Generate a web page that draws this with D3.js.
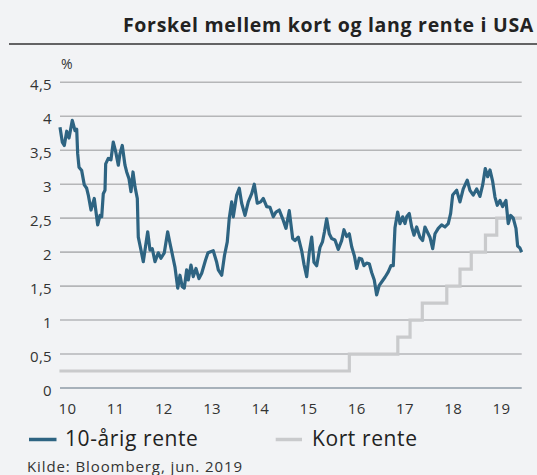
<!DOCTYPE html>
<html>
<head>
<meta charset="utf-8">
<script src="https://cdn.jsdelivr.net/npm/d3@7"></script>
<style>
html,body{margin:0;padding:0;background:#f2f3f5;}
svg{display:block;font-family:"Open Sans",sans-serif;}
</style>
</head>
<body>
<svg id="chart" width="537" height="475"></svg>
<script>
// 10-year yield: decimal-year positions and values (%)
const longDates = [2010.051,2010.098,2010.139,2010.188,2010.235,2010.302,2010.357,2010.392,2010.412,2010.439,2010.494,2010.547,2010.596,2010.629,2010.684,2010.751,2010.821,2010.868,2010.903,2010.935,2010.970,2010.984,2011.037,2011.092,2011.139,2011.188,2011.242,2011.276,2011.323,2011.378,2011.413,2011.460,2011.501,2011.542,2011.583,2011.630,2011.650,2011.705,2011.752,2011.787,2011.842,2011.889,2011.936,2011.991,2012.058,2012.113,2012.181,2012.250,2012.297,2012.344,2012.399,2012.455,2012.501,2012.548,2012.589,2012.638,2012.671,2012.726,2012.773,2012.828,2012.889,2012.945,2013.022,2013.073,2013.181,2013.251,2013.284,2013.353,2013.410,2013.467,2013.508,2013.557,2013.590,2013.659,2013.712,2013.761,2013.829,2013.896,2013.966,2014.019,2014.080,2014.149,2014.202,2014.272,2014.339,2014.407,2014.462,2014.529,2014.599,2014.666,2014.733,2014.803,2014.850,2014.917,2014.987,2015.034,2015.089,2015.142,2015.191,2015.238,2015.293,2015.360,2015.411,2015.452,2015.497,2015.550,2015.599,2015.667,2015.734,2015.803,2015.850,2015.905,2015.959,2016.008,2016.065,2016.110,2016.163,2016.212,2016.259,2016.314,2016.367,2016.416,2016.469,2016.518,2016.571,2016.620,2016.688,2016.755,2016.810,2016.857,2016.892,2016.947,2016.994,2017.049,2017.096,2017.131,2017.184,2017.233,2017.280,2017.335,2017.402,2017.457,2017.504,2017.551,2017.606,2017.662,2017.709,2017.776,2017.845,2017.913,2017.980,2018.029,2018.070,2018.152,2018.219,2018.286,2018.368,2018.423,2018.491,2018.560,2018.627,2018.683,2018.736,2018.785,2018.832,2018.887,2018.934,2018.981,2019.036,2019.091,2019.158,2019.205,2019.254,2019.307,2019.363,2019.397,2019.444,2019.479];
const longValues = [3.84,3.62,3.57,3.78,3.68,3.94,3.79,3.81,3.45,3.25,3.20,2.99,2.94,2.84,2.62,2.79,2.40,2.54,2.52,2.86,2.91,3.30,3.38,3.36,3.62,3.48,3.28,3.45,3.57,3.28,3.18,3.08,2.89,3.18,2.96,2.79,2.22,2.03,1.86,2.03,2.30,2.03,2.05,1.86,1.99,1.91,1.99,2.30,2.13,1.97,1.78,1.47,1.66,1.49,1.47,1.74,1.59,1.81,1.64,1.76,1.61,1.69,1.88,1.99,2.02,1.85,1.74,1.66,1.95,2.15,2.50,2.74,2.52,2.84,2.94,2.72,2.54,2.74,2.86,3.00,2.72,2.74,2.79,2.67,2.66,2.52,2.59,2.62,2.49,2.35,2.61,2.20,2.17,2.22,2.02,1.82,1.64,2.00,2.22,1.85,1.80,2.07,2.15,2.30,2.49,2.27,2.20,2.18,2.04,2.17,2.33,2.23,2.27,2.08,1.94,1.76,1.91,1.90,1.80,1.84,1.83,1.70,1.59,1.37,1.51,1.56,1.63,1.71,1.80,1.80,2.36,2.59,2.42,2.52,2.42,2.52,2.57,2.37,2.25,2.37,2.22,2.17,2.37,2.30,2.22,2.05,2.27,2.35,2.40,2.37,2.42,2.57,2.84,2.91,2.74,2.93,3.06,2.91,2.84,2.93,2.82,2.99,3.23,3.11,3.21,3.04,2.81,2.69,2.76,2.67,2.76,2.42,2.54,2.50,2.35,2.09,2.06,2.00];

// Short rate (policy rate, upper bound): step dates and values
const shortDates = [2010.04,2015.96,2016.95,2017.20,2017.45,2017.95,2018.22,2018.45,2018.74,2018.97,2019.479];
const shortValues = [0.25,0.50,0.75,1.00,1.25,1.50,1.75,2.00,2.25,2.50,2.50];

const yTicks = [0,0.5,1,1.5,2,2.5,3,3.5,4,4.5];
const xTickYears = [2010,2011,2012,2013,2014,2015,2016,2017,2018,2019];
const xTickLabels = ["10","11","12","13","14","15","16","17","18","19"];

const titleText = "Forskel mellem kort og lang rente i USA";
const unitText = "%";
const legendNames = ["10-årig rente","Kort rente"];
const sourceText = "Kilde: Bloomberg, jun. 2019";

const colLong = "#2e6482", colShort = "#c9cacc";

const svg = d3.select("#chart");
const x = d3.scaleLinear().domain([2010,2019]).range([57.5,498.2]);
const xLabel = d3.scaleLinear().domain([2010,2019]).range([58.5,492.5]);
const y = d3.scaleLinear().domain([0,4.5]).range([388,82.3]);
const gridX0 = 60, gridX1 = 521.7;

// title
svg.append("text").attr("x",534).attr("y",32.3).attr("text-anchor","end")
  .attr("font-weight","700").attr("font-size",19.5).attr("letter-spacing",0.7)
  .attr("fill","#222").text(titleText);
svg.append("line").attr("x1",9).attr("x2",537).attr("y1",44).attr("y2",44)
  .attr("stroke","#333").attr("stroke-width",1.5);

// grid
const grid = svg.append("g");
grid.selectAll("line").data(yTicks).join("line")
  .attr("x1",gridX0).attr("x2",gridX1)
  .attr("y1",d=>y(d)).attr("y2",d=>y(d))
  .attr("stroke",d=>d===0?"#8e9ba6":"#b5b6b8").attr("stroke-width",1.6);

// y labels
svg.append("g").selectAll("text").data(yTicks).join("text")
  .attr("x",52).attr("y",d=>y(d)+8).attr("text-anchor","end")
  .attr("font-size",15).attr("letter-spacing",0.3).attr("fill","#333")
  .text(d=>String(d).replace(".",","));
svg.append("text").attr("x",61).attr("y",69).attr("font-size",14).attr("fill","#333").text(unitText);

// x labels
svg.append("g").selectAll("text").data(xTickYears).join("text")
  .attr("x",d=>xLabel(d)).attr("y",413.5)
  .attr("font-size",15).attr("letter-spacing",0.3).attr("fill","#333")
  .text((d,i)=>xTickLabels[i]);

// lines
const shortData = shortDates.map((d,i)=>({t:d,v:shortValues[i]}));
const longData = longDates.map((d,i)=>({t:d,v:longValues[i]}));
svg.append("path").datum(shortData)
  .attr("d",d3.line().x(d=>x(d.t)).y(d=>y(d.v)).curve(d3.curveStepAfter))
  .attr("fill","none").attr("stroke",colShort).attr("stroke-width",3.2);
svg.append("path").datum(longData)
  .attr("d",d3.line().x(d=>x(d.t)).y(d=>y(d.v)))
  .attr("fill","none").attr("stroke",colLong).attr("stroke-width",3.2)
  .attr("stroke-linejoin","round");

// legend
const leg = [{x1:29,x2:56.5,tx:65,c:colLong,n:legendNames[0]},{x1:275.7,x2:302,tx:312,c:colShort,n:legendNames[1]}];
leg.forEach(l=>{
  svg.append("line").attr("x1",l.x1).attr("x2",l.x2).attr("y1",439.5).attr("y2",439.5)
    .attr("stroke",l.c).attr("stroke-width",3.5);
  svg.append("text").attr("x",l.tx).attr("y",446).attr("font-size",21).attr("letter-spacing",0.6)
    .attr("fill","#222").text(l.n);
});

// source
svg.append("text").attr("x",27).attr("y",471.5).attr("font-size",15).attr("letter-spacing",0.9)
  .attr("fill","#333").text(sourceText);
</script>
</body>
</html>
